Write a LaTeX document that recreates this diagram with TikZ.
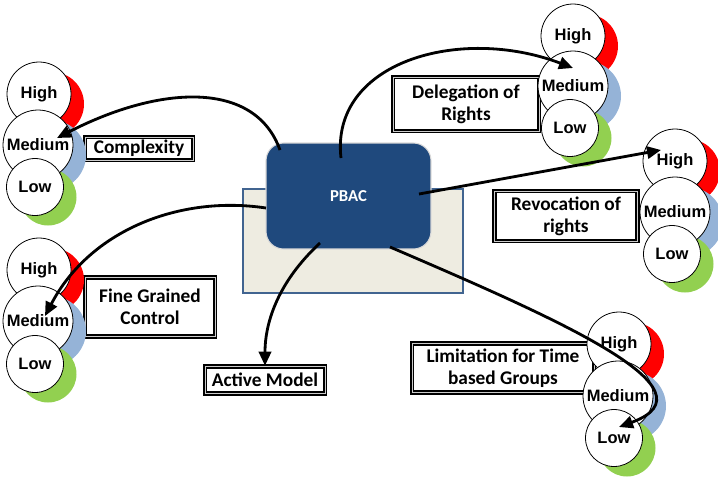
\documentclass[tikz,border=0pt]{standalone}
\usepackage{fontspec}
\setmainfont{Carlito}
\newfontfamily\circfont{Liberation Sans}
\usetikzlibrary{arrows.meta,calc}
\definecolor{pbacblue}{HTML}{1F497D}
\definecolor{basefill}{HTML}{EEECE1}
\definecolor{hired}{HTML}{FF0000}
\definecolor{medblue}{HTML}{95B3D7}
\definecolor{lowgreen}{HTML}{92D050}
\begin{document}
\begin{tikzpicture}[x=0.02cm,y=-0.02cm,
  lvl/.style={circle,draw=black,line width=0.45pt,fill=white,inner sep=0pt,
    font=\circfont\bfseries\fontsize{9.4}{10}\selectfont},
  hi/.style={lvl,minimum size=1.28cm},
  me/.style={lvl,minimum size=1.40cm},
  lo/.style={lvl,minimum size=1.14cm},
  labelbox/.style={draw=black,line width=0.9pt,double=white!80!black,double distance=0.5pt,
    fill=white,align=center,inner sep=0pt,
    font=\bfseries\fontsize{11}{12.5}\selectfont},
  conn/.style={line width=1.6pt,-{Triangle[length=8pt,width=7pt]}},
]
\useasboundingbox (0,0) rectangle (718,481);

% central block
\node[draw=pbacblue!85,line width=0.6pt,fill=basefill,minimum width=4.4cm,minimum height=2.08cm] (base) at (353,241) {};
\node[rounded corners=10pt,fill=pbacblue,draw=white!85!black,line width=0.6pt,
  minimum width=3.3cm,minimum height=2.12cm,text=white,
  font=\bfseries\fontsize{9.5}{10}\selectfont] (pbac) at (348.5,196) {PBAC};

% feature labels
\node[labelbox,minimum width=2.16cm,minimum height=0.46cm] (cplx) at (139,148.5) {Complexity};
\node[labelbox,minimum width=2.92cm,minimum height=1.08cm] (deleg) at (466,104) {Delegation of\\Rights};
\node[labelbox,minimum width=2.86cm,minimum height=1.0cm] (revoc) at (566,216) {Revocation of\\rights};
\node[labelbox,minimum width=2.6cm,minimum height=1.18cm] (fine) at (150,307) {Fine Grained\\Control};
\node[labelbox,minimum width=2.4cm,minimum height=0.54cm] (active) at (265,380) {Active Model};
\node[labelbox,minimum width=3.64cm,minimum height=0.98cm] (limit) at (503,368) {Limitation for Time\\based Groups};

% High / Medium / Low scales
\foreach \n/\hx/\hy/\mx/\my/\lx/\ly in {1/39/94/38/145/35/187, 2/573/36/573/86/570/128,
    3/675/161/675/212/672/254, 4/39/270/38/321/35/364, 5/619/344/618/396/614/438}{
  \fill[hired] (\hx+13,\hy+10) circle[radius=32];
  \fill[medblue] (\mx+13,\my+10) circle[radius=35];
  \fill[lowgreen] (\lx+13,\ly+10) circle[radius=28.5];
  \node[hi] (h\n) at (\hx,\hy) {High};
  \node[me] (m\n) at (\mx,\my) {Medium};
  \node[lo] (l\n) at (\lx,\ly) {Low};
}

% connector ends
\coordinate (a0) at ($(pbac)+(-68.5,-46)$);
\coordinate (a1) at ($(m1)+(19,-7)$);
\coordinate (b0) at ($(pbac)+(-7.5,-38)$);
\coordinate (b1) at ($(m2)+(0,-18)$);
\coordinate (c0) at ($(pbac)+(70.5,-2)$);
\coordinate (c1) at ($(h3)+(-14,-11)$);
\coordinate (d0) at ($(pbac)+(-82.5,12)$);
\coordinate (d1) at ($(m4)+(7,-5)$);
\coordinate (e0) at ($(pbac)+(-28.5,47)$);
\coordinate (f0) at ($(pbac)+(41.5,51)$);
\coordinate (f1) at ($(l5)+(5,-11)$);

% connectors
\draw[conn] (a0) .. controls (255,80) and (160,85) .. (a1);
\draw[conn] (b0) .. controls (330,62) and (460,25) .. (b1);
\draw[conn] (c0) -- (c1);
\draw[conn] (d0) .. controls (180,195) and (90,230) .. (d1);
\draw[conn] (e0) .. controls (280,280) and (265,320) .. (active.north);
\draw[conn] (f0) .. controls (560,320) and (720,390) .. (f1);
\end{tikzpicture}
\end{document}
